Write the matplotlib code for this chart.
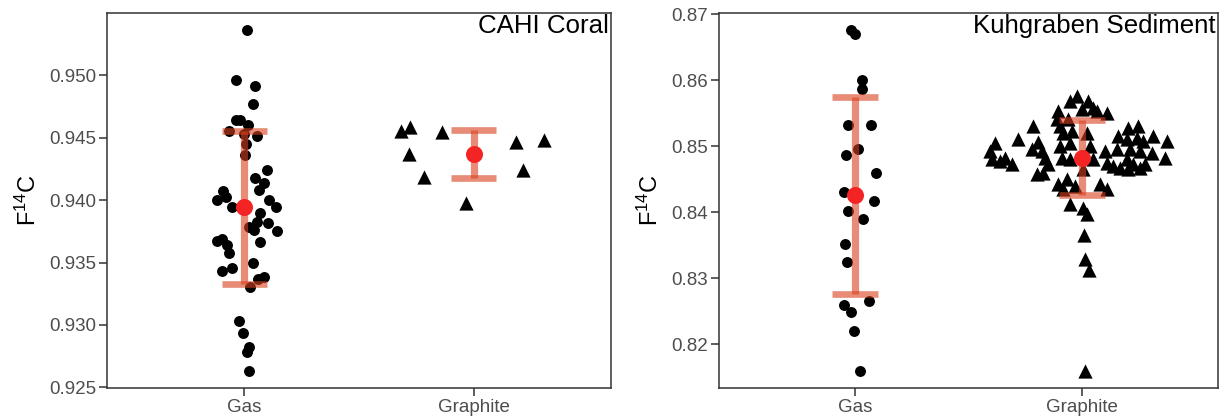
import matplotlib
matplotlib.use("Agg")
import matplotlib.pyplot as plt
import numpy as np

plt.rcParams['font.family'] = ['Liberation Sans', 'DejaVu Sans']
plt.rcParams['mathtext.fontset'] = 'custom'
plt.rcParams['mathtext.rm'] = 'Liberation Sans'
plt.rcParams['mathtext.it'] = 'Liberation Sans:italic'
plt.rcParams['mathtext.default'] = 'regular'

# ---------------- data ----------------
categories = ["Gas", "Graphite"]
panel_titles = ["CAHI Coral", "Kuhgraben Sediment"]
y_label = "F$^{14}$C"

coral_gas_f14c = [0.95363, 0.94960, 0.94914, 0.94773, 0.94639, 0.94639, 0.94599, 0.94554,
                  0.94527, 0.94514, 0.94447, 0.94361, 0.94244, 0.94175, 0.94137, 0.94084,
                  0.94073, 0.94004, 0.94028, 0.93998, 0.93948, 0.93945, 0.93894, 0.93825,
                  0.93782, 0.93760, 0.93814, 0.93750, 0.93672, 0.93691, 0.93664, 0.93638,
                  0.93574, 0.93494, 0.93459, 0.93435, 0.93384, 0.93365, 0.93301, 0.93031,
                  0.92938, 0.92823, 0.92783, 0.92631]
coral_gas_jitter = [0.010, -0.037, 0.047, 0.038, -0.037, -0.020, 0.017, -0.066,
                    -0.002, 0.055, 0.007, 0.002, 0.100, 0.046, 0.086, 0.062,
                    -0.095, -0.121, -0.081, 0.108, -0.055, 0.137, 0.068, 0.053,
                    0.018, 0.041, 0.104, 0.141, -0.121, -0.097, 0.068, -0.078,
                    -0.066, 0.036, -0.056, -0.100, 0.085, 0.060, 0.024, -0.024,
                    -0.005, 0.021, 0.010, 0.020]

coral_graphite_f14c = [0.94554, 0.94589, 0.94546, 0.94367, 0.94185, 0.93974, 0.94466, 0.94485, 0.94239]
coral_graphite_jitter = [-0.318, -0.277, -0.137, -0.282, -0.215, -0.033, 0.186, 0.306, 0.215]

coral_means = [0.93943, 0.94370]
coral_sds = [0.00612, 0.00194]

sed_gas_f14c = [0.86762, 0.86708, 0.86005, 0.85864, 0.85318, 0.85323, 0.84959, 0.84874,
                0.84595, 0.84314, 0.84177, 0.84015, 0.83898, 0.83515, 0.83247, 0.82656,
                0.82595, 0.82495, 0.82197, 0.81601]
sed_gas_jitter = [-0.018, 0.000, 0.031, 0.031, -0.032, 0.070, 0.015, -0.038,
                  0.092, -0.051, 0.085, -0.032, 0.034, -0.043, -0.037, 0.063,
                  -0.051, -0.016, -0.004, 0.021]

sed_graphite_f14c = [0.85056, 0.84929, 0.84803, 0.84777, 0.84829, 0.84727, 0.85117, 0.85308,
                     0.85065, 0.84955, 0.84929, 0.84829, 0.84727, 0.84576, 0.84602, 0.85535,
                     0.85409, 0.85308, 0.85686, 0.85762, 0.85686, 0.85561, 0.85586, 0.85535,
                     0.85511, 0.85409, 0.85232, 0.85208, 0.85005, 0.85056, 0.84829, 0.84803,
                     0.85208, 0.85005, 0.84803, 0.84652, 0.84424, 0.84500, 0.84398, 0.84348,
                     0.84424, 0.84348, 0.84121, 0.84071, 0.83970, 0.84929, 0.84955, 0.84753,
                     0.84702, 0.84677, 0.85156, 0.85283, 0.85308, 0.85106, 0.85132, 0.85080,
                     0.85156, 0.85080, 0.84955, 0.84929, 0.84905, 0.84829, 0.84803, 0.84727,
                     0.84727, 0.84652, 0.84677, 0.83652, 0.83288, 0.83126, 0.81595]
sed_graphite_jitter = [-0.383, -0.405, -0.397, -0.361, -0.339, -0.309, -0.280, -0.214,
                       -0.192, -0.221, -0.177, -0.163, -0.148, -0.199, -0.170, -0.104,
                       -0.111, -0.097, -0.053, -0.023, 0.028, -0.001, 0.050, 0.065,
                       0.109, -0.060, -0.045, -0.082, -0.097, -0.053, -0.089, -0.053,
                       0.021, 0.035, 0.050, 0.006, -0.104, -0.067, -0.031, -0.082,
                       0.079, 0.109, -0.053, 0.006, 0.021, 0.101, 0.153, 0.109,
                       0.138, 0.167, 0.160, 0.204, 0.248, 0.197, 0.241, 0.270,
                       0.314, 0.373, 0.211, 0.255, 0.307, 0.365, 0.197, 0.226,
                       0.277, 0.204, 0.255, 0.010, 0.013, 0.032, 0.013]

sed_means = [0.84256, 0.84830]
sed_sds = [0.01498, 0.00569]

coral_yticks = [0.925, 0.930, 0.935, 0.940, 0.945, 0.950]
sed_yticks = [0.82, 0.83, 0.84, 0.85, 0.86, 0.87]

# ---------------- style ----------------
W, H = 1222, 420
fig = plt.figure(figsize=(W / 100, H / 100), dpi=100)

spine_col = '#333333'
tick_col = '#4D4D4D'
err_col = '#D9401F'
mean_col = '#F42424'

def make_panel(rect, groups, means, sds, yticks, fmt, title):
    ax = fig.add_axes(rect)
    allv = np.concatenate([np.asarray(g[0]) for g in groups])
    lo, hi = allv.min(), allv.max()
    pad = 0.05 * (hi - lo)
    ax.set_ylim(lo - pad, hi + pad)
    ax.set_xlim(0.4, 2.6)
    markers = ['o', '^']
    sizes = [62, 105]
    for i, (vals, jit) in enumerate(groups):
        x = (i + 1) + np.asarray(jit)
        ax.scatter(x, vals, marker=markers[i], s=sizes[i], c='black',
                   linewidths=0, zorder=2)
    for i, (m, s) in enumerate(zip(means, sds)):
        xc = i + 1
        ax.vlines(xc, m - s, m + s, colors=err_col, linewidth=5.2, alpha=0.6,
                  zorder=3, capstyle='butt')
        ax.hlines([m - s, m + s], xc - 0.1, xc + 0.1, colors=err_col,
                  linewidth=4.8, alpha=0.6, zorder=3, capstyle='butt')
        ax.scatter([xc], [m], s=150, c=mean_col, linewidths=0, zorder=4)
    ax.set_xticks([1, 2])
    ax.set_xticklabels(categories)
    ax.set_yticks(yticks)
    ax.set_yticklabels([fmt.format(t) for t in yticks])
    for sp in ax.spines.values():
        sp.set_color(spine_col)
        sp.set_linewidth(1.1)
    ax.tick_params(axis='both', colors=spine_col, labelcolor=tick_col,
                   labelsize=13.5, length=6, width=1.1, pad=2)
    ax.set_ylabel(y_label, fontsize=17, color='black', labelpad=6)
    ax.text(0.996, 0.997, title, transform=ax.transAxes, ha='right', va='top',
            fontsize=18.6, color='black')
    return ax

make_panel([107 / W, 1 - 388 / H, 504 / W, 375 / H],
           [(coral_gas_f14c, coral_gas_jitter), (coral_graphite_f14c, coral_graphite_jitter)],
           coral_means, coral_sds, coral_yticks, '{:.3f}', panel_titles[0])
make_panel([719 / W, 1 - 388 / H, 499 / W, 375 / H],
           [(sed_gas_f14c, sed_gas_jitter), (sed_graphite_f14c, sed_graphite_jitter)],
           sed_means, sed_sds, sed_yticks, '{:.2f}', panel_titles[1])

fig.savefig('out.png', dpi=100)
